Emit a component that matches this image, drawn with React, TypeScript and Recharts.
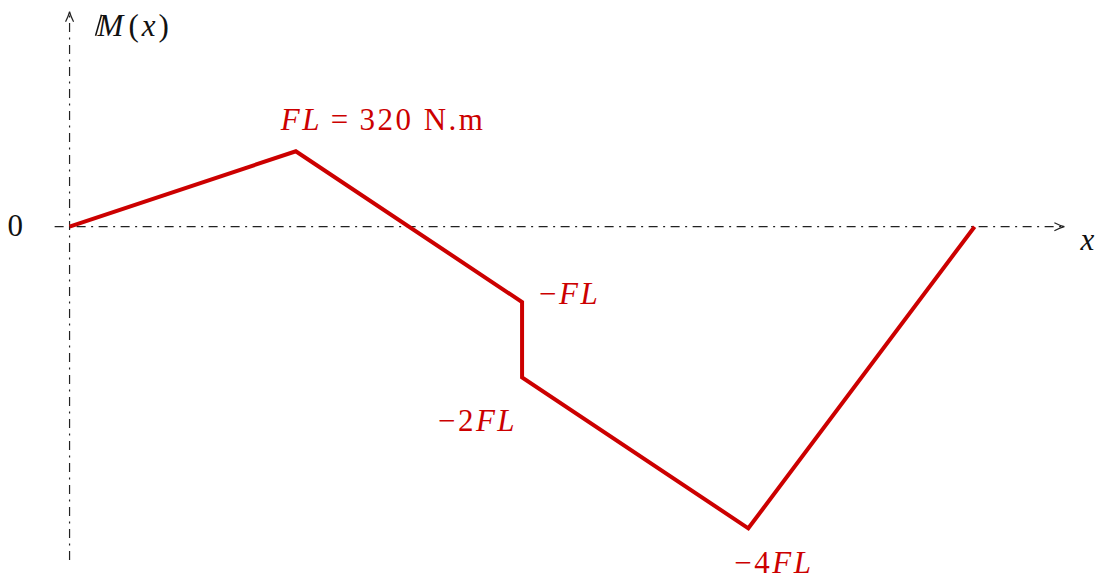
import { LineChart, Line, XAxis, YAxis, ReferenceLine, ReferenceDot } from 'recharts'

// bending moment along the beam, positions in units of L, moments in N.m
const FL = 320
const positions = [0, 1, 2, 2, 3, 4]
const moments = [0, FL, -FL, -2 * FL, -4 * FL, 0]
const pointLabels = ['', 'FL = 320 N.m', '−FL', '−2FL', '−4FL', '']

const RED = '#cc0000'
const AXIS = '#222'
const SERIF = '"Liberation Serif", "DejaVu Serif", serif'
const DASH = '9 5.5 2 5.5'

const data = positions.map((x, i) => ({ x, m: moments[i], label: pointLabels[i] }))

// where each value label sits relative to its point
const labelOffsets: Record<number, { dx: number; dy: number; anchor: 'start' | 'end' | 'middle' }> = {
  1: { dx: -15, dy: -21, anchor: 'start' },
  2: { dx: 17, dy: 2, anchor: 'start' },
  3: { dx: -5, dy: 54, anchor: 'end' },
  4: { dx: -14, dy: 45, anchor: 'start' },
}

const UPRIGHT = /^(\s*=\s*|\d+|\s*N\.m|−)$/

function MathText({ text, x, y, anchor }: { text: string; x: number; y: number; anchor: 'start' | 'end' | 'middle' }) {
  // italic letters, upright digits and operators, like math mode
  const parts = text.split(/(\s*=\s*|\d+|\s*N\.m|−)/).filter((p) => p !== '')
  return (
    <text x={x} y={y} textAnchor={anchor} fill={RED} fontSize={31} fontFamily={SERIF} letterSpacing={2.5}>
      {parts.map((p, i) => {
        const upright = UPRIGHT.test(p)
        let shown = p
        if (p.includes('=')) shown = '\u2009=\u2009'
        if (p.includes('N.m')) shown = '\u00a0N.m'
        return (
          <tspan key={i} fontStyle={upright ? 'normal' : 'italic'}>
            {shown}
          </tspan>
        )
      })}
    </text>
  )
}

const renderPointLabel = (props: any) => {
  const { x, y, index } = props
  const off = labelOffsets[index]
  if (!off || x == null || y == null) return null
  return <MathText key={index} text={pointLabels[index]} x={x + off.dx} y={y + off.dy} anchor={off.anchor} />
}

const ArrowUp = (props: any) => {
  const { cx, cy } = props
  return (
    <g>
      <path
        d={`M ${cx - 4} ${cy + 10} Q ${cx - 1} ${cy + 4} ${cx} ${cy} Q ${cx + 1} ${cy + 4} ${cx + 4} ${cy + 10}`}
        fill="none"
        stroke={AXIS}
        strokeWidth={1.2}
      />
      {/* extra stem that makes the blackboard-bold M */}
      <line x1={cx + 26} y1={cy + 24} x2={cx + 32} y2={cy + 3} stroke="#111" strokeWidth={1.5} />
      <text x={cx + 28} y={cy + 24} fontSize={31} fontFamily={SERIF} fill="#111" letterSpacing={3}>
        <tspan fontStyle="italic">M</tspan>
        <tspan dx={2}>(</tspan>
        <tspan fontStyle="italic">x</tspan>
        <tspan>)</tspan>
      </text>
    </g>
  )
}

const ArrowRight = (props: any) => (
  <g>
    <path
      d={`M ${props.cx - 10} ${props.cy - 4} Q ${props.cx - 4} ${props.cy - 1} ${props.cx} ${props.cy} Q ${props.cx - 4} ${props.cy + 1} ${props.cx - 10} ${props.cy + 4}`}
      fill="none"
      stroke={AXIS}
      strokeWidth={1.2}
    />
    <text x={props.cx + 16} y={props.cy + 23} fontSize={31} fontStyle="italic" fontFamily={SERIF} fill="#111">
      x
    </text>
  </g>
)

const ZeroLabel = (props: any) => (
  <text x={props.cx - 62} y={props.cy + 9} fontSize={31} fontFamily={SERIF} fill="#111">
    0
  </text>
)

export default function App() {
  return (
    <div style={{ position: 'absolute', left: 0, top: 0, background: '#fff' }}>
      <LineChart
        width={1106}
        height={579}
        data={data}
        margin={{ top: 8, right: 7, bottom: 13, left: 13 }}
      >
        <XAxis type="number" dataKey="x" domain={[-0.25, 4.55]} allowDataOverflow hide />
        <YAxis type="number" domain={[-4.5 * FL, 2.9 * FL]} allowDataOverflow hide width={0} />
        <ReferenceLine
          segment={[{ x: 0, y: -4.42 * FL }, { x: 0, y: 2.84 * FL }]}
          stroke={AXIS}
          strokeWidth={1.2}
          strokeDasharray={DASH}
        />
        <ReferenceLine
          segment={[{ x: -0.066, y: 0 }, { x: 4.39, y: 0 }]}
          stroke={AXIS}
          strokeWidth={1.2}
          strokeDasharray={DASH}
        />
        <ReferenceDot x={0} y={2.85 * FL} r={0} shape={ArrowUp} />
        <ReferenceDot x={4.397} y={0} r={0} shape={ArrowRight} />
        <ReferenceDot x={0} y={0} r={0} shape={ZeroLabel} />
        <Line
          type="linear"
          dataKey="m"
          stroke={RED}
          strokeWidth={4}
          dot={false}
          strokeLinejoin="miter"
          isAnimationActive={false}
          label={renderPointLabel}
        />
      </LineChart>
    </div>
  )
}
